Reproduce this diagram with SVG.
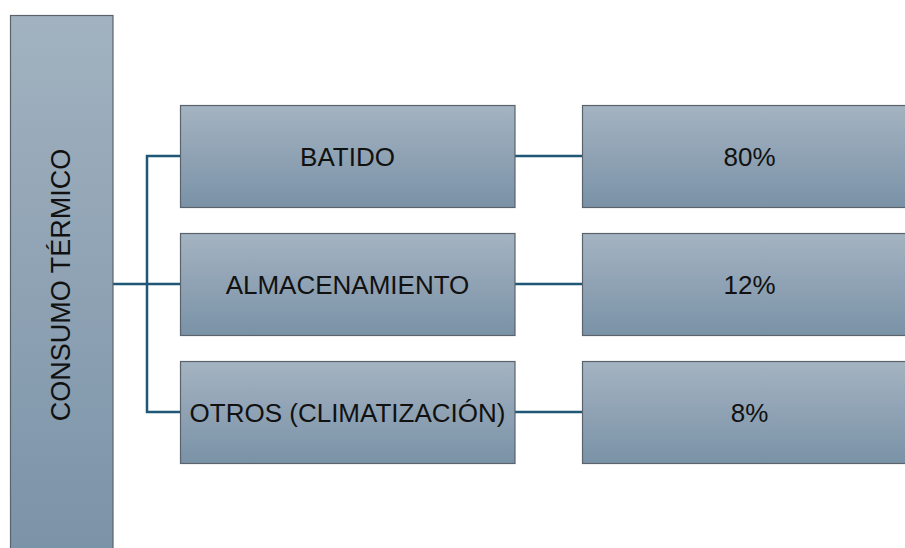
<svg xmlns="http://www.w3.org/2000/svg" width="905" height="548" viewBox="0 0 905 548">
<defs>
<linearGradient id="g" x1="0" y1="0" x2="0" y2="1">
<stop offset="0" stop-color="#a4b3c1"/>
<stop offset="1" stop-color="#7a92a7"/>
</linearGradient>
<linearGradient id="gl" x1="0" y1="0" x2="0" y2="1">
<stop offset="0" stop-color="#a2b2c0"/>
<stop offset="1" stop-color="#7b93a8"/>
</linearGradient>
</defs>
<style>
.box{fill:url(#g);stroke:#5a636b;stroke-width:1.2}
.lbl{font-family:"Liberation Sans",Arial,sans-serif;font-size:26px;fill:#111;text-anchor:middle;dominant-baseline:central}
.con{fill:none;stroke:#1f5876;stroke-width:2.5}
</style>
<rect width="905" height="548" fill="#fff"/>
<g id="connectors">
<path class="con" d="M113 284 H180"/>
<path class="con" d="M180 156 H147 V412 H180"/>
<path class="con" d="M515 156 H582"/>
<path class="con" d="M515 284 H582"/>
<path class="con" d="M515 412 H582"/>
</g>
<g id="consumo">
<rect x="10.5" y="15.5" width="102.5" height="540" fill="url(#gl)" stroke="#5a636b" stroke-width="1.2"/>
<text class="lbl" transform="translate(61 285) rotate(-90)" style="font-size:27px">CONSUMO TÉRMICO</text>
</g>
<g id="batido">
<rect class="box" x="180.5" y="105.5" width="334.5" height="102"/>
<text class="lbl" x="347.5" y="157">BATIDO</text>
</g>
<g id="almacenamiento">
<rect class="box" x="180.5" y="233.5" width="334.5" height="102"/>
<text class="lbl" x="347.5" y="285">ALMACENAMIENTO</text>
</g>
<g id="otros">
<rect class="box" x="180.5" y="361.5" width="334.5" height="102"/>
<text class="lbl" x="347.5" y="413">OTROS (CLIMATIZACIÓN)</text>
</g>
<g id="p80">
<rect class="box" x="582.5" y="105.5" width="335" height="102"/>
<text class="lbl" x="749.5" y="157">80%</text>
</g>
<g id="p12">
<rect class="box" x="582.5" y="233.5" width="335" height="102"/>
<text class="lbl" x="749.5" y="285">12%</text>
</g>
<g id="p8">
<rect class="box" x="582.5" y="361.5" width="335" height="102"/>
<text class="lbl" x="749.5" y="413">8%</text>
</g>
</svg>
